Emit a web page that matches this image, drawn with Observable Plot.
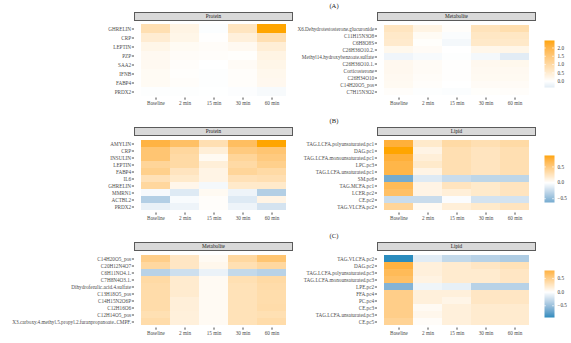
<!DOCTYPE html>
<html><head><meta charset="utf-8">
<script src="https://cdn.jsdelivr.net/npm/d3@7"></script>
<script src="https://cdn.jsdelivr.net/npm/@observablehq/plot@0.6"></script>
<style>
body{margin:0;background:#fff;}
#chart{position:relative;width:571px;height:343px;overflow:hidden;font-family:"Liberation Serif",serif;}
#chart svg{position:absolute;overflow:visible;}
.strip{position:absolute;background:#d9d9d9;border:1px solid #5a5a5a;box-sizing:border-box;font-size:5.3px;color:#1a1a1a;text-align:center;}
.title{position:absolute;font-size:6.6px;color:#1a1a1a;transform:translate(-50%,-50%);white-space:nowrap;}
</style></head><body><div id="chart"></div>
<script>
const timepoints = ["Baseline","2 min","15 min","30 min","60 min"];

const aProteinRows = ["GHRELIN","CRP","LEPTIN","PZP","SAA2","IFNB","FABP4","PRDX2"];
const aProteinValues = [
  [0.85, 0.3, -0.05, 0.7, 2.45],
  [0.5, 0.25, 0.02, 0.4, 0.85],
  [0.25, 0.12, 0.08, 0.15, 0.45],
  [0.15, 0.08, 0.05, 0.03, 0.3],
  [0.15, 0.06, 0.0, 0.1, 0.25],
  [0.12, 0.03, -0.03, 0.06, 0.2],
  [0.12, 0.05, -0.02, 0.06, 0.18],
  [-0.03, -0.02, -0.01, -0.04, -0.1]
];
const aMetaboliteRows = ["X6.Dehydrotestosterone.glucuronide","C11H15N3O8","C6H8O8S","C26H36O10.2.","Methyl14.hydroxybenzoate.sulfate","C26H36O10.1.","Corticosterone","C26H34O10","C14H20O5_pos","C7H15N3O2"];
const aMetaboliteValues = [
  [0.7, 0.3, 0.05, 0.75, 0.9],
  [0.6, 0.12, -0.06, 0.65, 0.65],
  [0.55, 0.04, -0.15, 0.6, 0.6],
  [0.2, 0.1, 0.0, 0.22, 0.25],
  [-0.2, -0.1, -0.03, -0.15, -0.38],
  [0.18, 0.1, 0.02, 0.18, 0.2],
  [0.18, 0.1, 0.02, 0.15, 0.15],
  [0.15, 0.08, 0.02, 0.14, 0.14],
  [0.14, 0.05, 0.0, 0.1, 0.1],
  [0.05, -0.02, -0.05, 0.04, 0.05]
];

const bProteinRows = ["AMYLIN","CRP","INSULIN","LEPTIN","FABP4","IL6","GHRELIN","MMRN1","ACTBL2","PRDX2"];
const bProteinValues = [
  [0.72, 0.6, 0.3, 0.62, 0.86],
  [0.55, 0.38, 0.15, 0.5, 0.55],
  [0.55, 0.35, 0.05, 0.4, 0.5],
  [0.4, 0.35, 0.15, 0.35, 0.45],
  [0.45, 0.25, 0.1, 0.4, 0.35],
  [0.28, 0.2, 0.1, 0.28, 0.3],
  [0.38, 0.08, -0.05, 0.2, 0.2],
  [-0.04, -0.15, 0.05, -0.08, -0.35],
  [-0.35, -0.03, 0.02, -0.15, 0.1],
  [-0.1, -0.08, 0.02, -0.08, -0.2]
];
const bLipidRows = ["TAG.LCFA.polyunsaturated.pc1","DAG.pc1","TAG.LCFA.monounsaturated.pc1","LPC.pc3","TAG.LCFA.unsaturated.pc1","SM.pc6","TAG.MCFA.pc1","LCER.pc2","CE.pc2","TAG.VLCFA.pc2"];
const bLipidValues = [
  [0.75, 0.2, 0.35, 0.3, 0.35],
  [0.86, 0.1, 0.3, 0.25, 0.3],
  [0.75, 0.15, 0.3, 0.25, 0.3],
  [0.7, 0.2, 0.3, 0.25, 0.3],
  [0.7, 0.1, 0.3, 0.25, 0.3],
  [-0.62, -0.15, -0.25, -0.3, -0.3],
  [0.65, 0.1, 0.25, 0.2, 0.25],
  [0.6, 0.1, 0.15, 0.2, 0.25],
  [-0.25, -0.25, -0.02, -0.2, -0.2],
  [0.4, 0.05, 0.15, 0.2, 0.25]
];

const cMetaboliteRows = ["C14H20O5_pos","C20H12N4O7","C6H11NO4.1.","C7H8N4O3.1.","Dihydroferulic.acid.4.sulfate","C13H18O5_pos","C14H15N2O6P","C12H16O6","C12H14O5_pos","X3.carboxy.4.methyl.5.propyl.2.furanpropanoate..CMPF."];
const cMetaboliteValues = [
  [0.5, 0.25, 0.05, 0.4, 0.6],
  [0.4, 0.25, 0.08, 0.32, 0.4],
  [-0.35, -0.25, -0.1, -0.3, -0.35],
  [0.38, 0.2, 0.05, 0.32, 0.38],
  [0.36, 0.2, 0.05, 0.3, 0.36],
  [0.36, 0.2, 0.05, 0.3, 0.35],
  [0.36, 0.16, 0.05, 0.3, 0.35],
  [0.36, 0.16, 0.05, 0.3, 0.36],
  [0.32, 0.15, 0.05, 0.3, 0.32],
  [0.36, 0.15, 0.05, 0.3, 0.36]
];
const cLipidRows = ["TAG.VLCFA.pc2","DAG.pc2","TAG.LCFA.polyunsaturated.pc3","TAG.LCFA.monounsaturated.pc3","LPE.pc2","FFA.pc4","PC.pc4","CE.pc3","TAG.LCFA.unsaturated.pc3","CE.pc5"];
const cLipidValues = [
  [-0.93, -0.15, -0.3, -0.35, -0.4],
  [0.79, 0.15, 0.2, 0.25, 0.3],
  [0.7, 0.15, 0.2, 0.2, 0.25],
  [0.65, 0.12, 0.2, 0.2, 0.25],
  [-0.6, -0.08, -0.12, -0.35, -0.35],
  [0.5, 0.15, 0.15, 0.25, 0.25],
  [0.5, 0.15, 0.1, 0.25, 0.25],
  [0.5, 0.05, 0.15, 0.2, 0.2],
  [0.5, 0.08, 0.15, 0.2, 0.2],
  [0.45, 0.03, 0.15, 0.2, 0.2]
];

const rowsSpec = [
  {label:"(A)", left:{name:"Protein", rows:aProteinRows, values:aProteinValues}, right:{name:"Metabolite", rows:aMetaboliteRows, values:aMetaboliteValues}, ticks:[0,0.5,1,1.5,2]},
  {label:"(B)", left:{name:"Protein", rows:bProteinRows, values:bProteinValues}, right:{name:"Lipid", rows:bLipidRows, values:bLipidValues}, ticks:[-0.5,0,0.5]},
  {label:"(C)", left:{name:"Metabolite", rows:cMetaboliteRows, values:cMetaboliteValues}, right:{name:"Lipid", rows:cLipidRows, values:cLipidValues}, ticks:[-0.5,0,0.5]}
];

const LOW = "#2B8CBE", MID = "#FFFFFF", HIGH = "#FFA500";
const FONT = "'Liberation Serif', serif";
const chart = document.getElementById("chart");

function place(el, left, top) { el.style.left = left + "px"; el.style.top = top + "px"; chart.appendChild(el); }

function strip(name, left, top, width) {
  const d = document.createElement("div");
  d.className = "strip";
  d.style.width = width + "px"; d.style.height = "9px"; d.style.lineHeight = "7.5px";
  d.textContent = name;
  place(d, left, top);
}

function panel(spec, colorOpts, svgLeft, panelLeft, top) {
  const data = spec.rows.flatMap((r, i) => timepoints.map((t, j) => ({row: r, time: t, value: spec.values[i][j]})));
  const panelW = 159;
  const marginLeft = panelLeft - svgLeft;
  const svg = Plot.plot({
    width: marginLeft + panelW + 4, height: 88,
    marginLeft, marginRight: 4, marginTop: 0, marginBottom: 11.5,
    style: {fontFamily: FONT, fontSize: "5.2px", color: "#4d4d4d", background: "transparent"},
    x: {domain: timepoints, padding: 0, insetLeft: 7, insetRight: 7, label: null},
    y: {domain: spec.rows, padding: 0, insetTop: 1.8, insetBottom: 1, label: null},
    color: colorOpts,
    marks: [
      Plot.cell(data, {x: "time", y: "row", fill: "value", inset: 0}),
      Plot.axisX({tickSize: 2.2, tickPadding: 1.2, label: null}),
      Plot.axisY({tickSize: 2.2, tickPadding: 1.2, label: null})
    ]
  });
  place(svg, svgLeft, top);
}

function legend(colorOpts, extent, ticks, top) {
  const svg = Plot.plot({
    width: 34, height: 56, marginLeft: 4, marginRight: 20, marginTop: 5, marginBottom: 4,
    style: {fontFamily: FONT, fontSize: "5.2px", color: "#333", background: "transparent"},
    x: {domain: [0, 1], axis: null},
    y: {domain: extent, axis: null},
    color: colorOpts,
    marks: [
      Plot.raster({x1: 0, x2: 1, y1: extent[0], y2: extent[1], width: 1, height: 240, fill: (x, y) => y}),
      Plot.ruleY(ticks, {x1: 0, x2: 0.2, stroke: "white", strokeWidth: 0.6}),
      Plot.ruleY(ticks, {x1: 0.8, x2: 1, stroke: "white", strokeWidth: 0.6}),
      Plot.axisY(ticks, {anchor: "right", tickSize: 0, tickPadding: 3, tickFormat: d3.format(".1f"), label: null})
    ]
  });
  place(svg, 540, top);
}

rowsSpec.forEach((spec, k) => {
  const top0 = k * 115;
  const all = [...spec.left.values.flat(), ...spec.right.values.flat()];
  const extent = d3.extent(all);
  const M = Math.max(Math.abs(extent[0]), Math.abs(extent[1]));
  const colorOpts = {type: "linear", domain: [-M, 0, M], range: [LOW, MID, HIGH], interpolate: "lab"};

  const t = document.createElement("div");
  t.className = "title"; t.textContent = spec.label;
  place(t, 334, top0 + 5);

  strip(spec.left.name, 134, top0 + 12, 159);
  strip(spec.right.name, 377, top0 + 12, 159);
  panel(spec.left, colorOpts, 0, 134, top0 + 20.8);
  panel(spec.right, colorOpts, 285, 377, top0 + 20.8);
  legend(colorOpts, extent, spec.ticks, top0 + 35);
});
</script></body></html>
